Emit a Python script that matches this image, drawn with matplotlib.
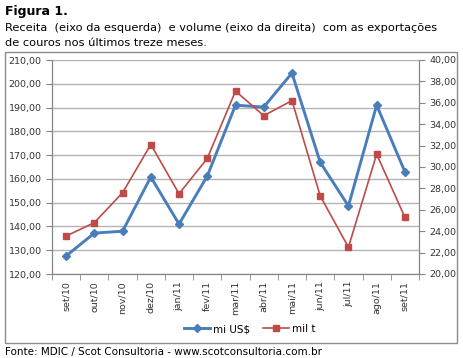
import matplotlib.pyplot as plt
import numpy as np
from matplotlib.patches import Rectangle

months = ["set/10", "out/10", "nov/10", "dez/10", "jan/11", "fev/11", "mar/11",
          "abr/11", "mai/11", "jun/11", "jul/11", "ago/11", "set/11"]
receita = [127.6, 137.2, 138.0, 160.8, 141.0, 161.2, 191.0,
           190.2, 204.5, 167.0, 148.6, 191.0, 163.0]
volume = [23.55, 24.8, 27.6, 32.1, 27.5, 30.8, 37.1,
          34.8, 36.2, 27.3, 22.5, 31.2, 25.3]

blue = "#4A7EBB"
red = "#BE4B48"
grey = "#868686"

W, H = 463, 358
fig = plt.figure(figsize=(W / 100, H / 100), dpi=100)
plt.rcParams['font.family'] = 'DejaVu Sans'

# outer chart frame
fig.patches.append(Rectangle((5 / W, 1 - 343 / H), 452 / W, 291 / H,
                             transform=fig.transFigure, fill=False,
                             edgecolor="#8c8c8c", lw=1))

ax = fig.add_axes([52 / W, 1 - 274 / H, 367 / W, 214 / H])
ax2 = ax.twinx()
x = np.arange(len(months))

ax.plot(x, receita, color=blue, lw=2.1, marker="D", ms=4.5, label="mi US$", zorder=3)
ax2.plot(x, volume, color=red, lw=1.2, marker="s", ms=5, label="mil t", zorder=3)

ax.set_xlim(-0.5, len(months) - 0.5)
ax.set_ylim(120, 210)
ax2.set_ylim(20, 40)
ax.set_yticks(np.arange(120, 211, 10))
ax2.set_yticks(np.arange(20, 41, 2))
ax.set_yticklabels([f"{v:.2f}".replace(".", ",") for v in np.arange(120, 211, 10)])
ax2.set_yticklabels([f"{v:.2f}".replace(".", ",") for v in np.arange(20, 41, 2)])
ax.set_xticks(x)
ax.set_xticklabels(months, rotation=90)
ax.set_xticks(np.arange(-0.5, len(months), 1), minor=True)
ax.tick_params(axis="x", which="major", length=0, labelsize=6.8, pad=5, colors="#333333")
ax.tick_params(axis="x", which="minor", length=4, color=grey)
ax.tick_params(axis="y", length=4, color=grey, labelsize=6.8, labelcolor="#333333")
ax2.tick_params(axis="y", length=4, color=grey, labelsize=6.8, labelcolor="#333333")

ax.grid(axis="y", color="#b3b3b3", lw=1)
ax.set_axisbelow(True)
for a in (ax, ax2):
    a.spines["top"].set_visible(False)
    for s in ("left", "right", "bottom"):
        a.spines[s].set_color(grey)

h1, l1 = ax.get_legend_handles_labels()
h2, l2 = ax2.get_legend_handles_labels()
fig.legend(h1 + h2, l1 + l2, loc="center", bbox_to_anchor=(250 / W, 1 - 329 / H),
           ncol=2, frameon=False, fontsize=7.5, handlelength=2.5, columnspacing=1.2,
           handletextpad=0.3)

fig.text(5 / W, 1 - 12 / H, "Figura 1.", fontsize=9, fontweight="bold", va="center")
fig.text(5 / W, 1 - 28 / H, "Receita  (eixo da esquerda)  e volume (eixo da direita)  com as exportações",
         fontsize=8.2, va="center")
fig.text(5 / W, 1 - 43 / H, "de couros nos últimos treze meses.", fontsize=8.2, va="center")
fig.text(5 / W, 1 - 352 / H, "Fonte: MDIC / Scot Consultoria - www.scotconsultoria.com.br",
         fontsize=7.5, va="center")

fig.savefig("out.png", dpi=100)
